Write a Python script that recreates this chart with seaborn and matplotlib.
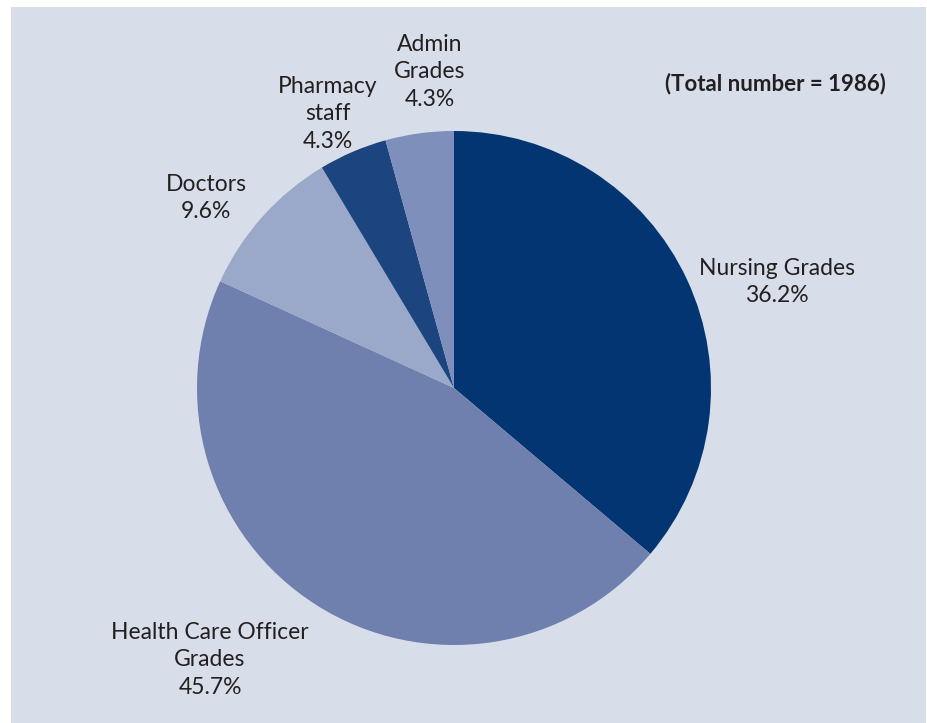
import matplotlib
matplotlib.use("Agg")
import matplotlib.pyplot as plt
import seaborn as sns

sns.set_theme(style="white")
plt.rcParams["font.family"] = ["Lato", "DejaVu Sans"]

categories = ["Nursing Grades", "Health Care Officer\nGrades", "Doctors",
              "Pharmacy\nstaff", "Admin\nGrades"]
shares = [36.2, 45.7, 9.6, 4.3, 4.3]
colors = ["#023572", "#6f7fae", "#9aa8ca", "#1c4580", "#7f8fbb"]
total_n = 1986

W, H = 927, 723
bg = "#d8dee9"
ink = "#231f20"

fig = plt.figure(figsize=(W / 100, H / 100), dpi=100, facecolor="white")
# shaded panel behind the chart
fig.patches.append(plt.Rectangle((11 / W, 0), (926 - 11) / W, (H - 7) / H,
                                 transform=fig.transFigure, facecolor=bg,
                                 edgecolor="none", zorder=-5))

cx, cy, r = 454, 388, 257
ax = fig.add_axes([(cx - r) / W, (H - cy - r) / H, 2 * r / W, 2 * r / H])
ax.set_facecolor("none")
ax.pie(shares, colors=colors, startangle=90, counterclock=False,
       radius=1, wedgeprops=dict(linewidth=0))
ax.set_xlim(-1, 1)
ax.set_ylim(-1, 1)
ax.set_axis_off()

# label anchor points in pixels (centre of text block)
label_pos = [(777, 282), (210, 660), (206, 198), (328, 114), (430, 72)]
for name, val, (x, y) in zip(categories, shares, label_pos):
    fig.text(x / W, 1 - y / H, f"{name}\n{val:.1f}%", ha="center", va="center",
             fontsize=16.5, color=ink, linespacing=1.38)

fig.text(775 / W, 1 - 84 / H, f"(Total number = {total_n})", ha="center",
         va="center", fontsize=16, fontweight="bold", color=ink)

fig.savefig("out.png", dpi=100, facecolor="white")
